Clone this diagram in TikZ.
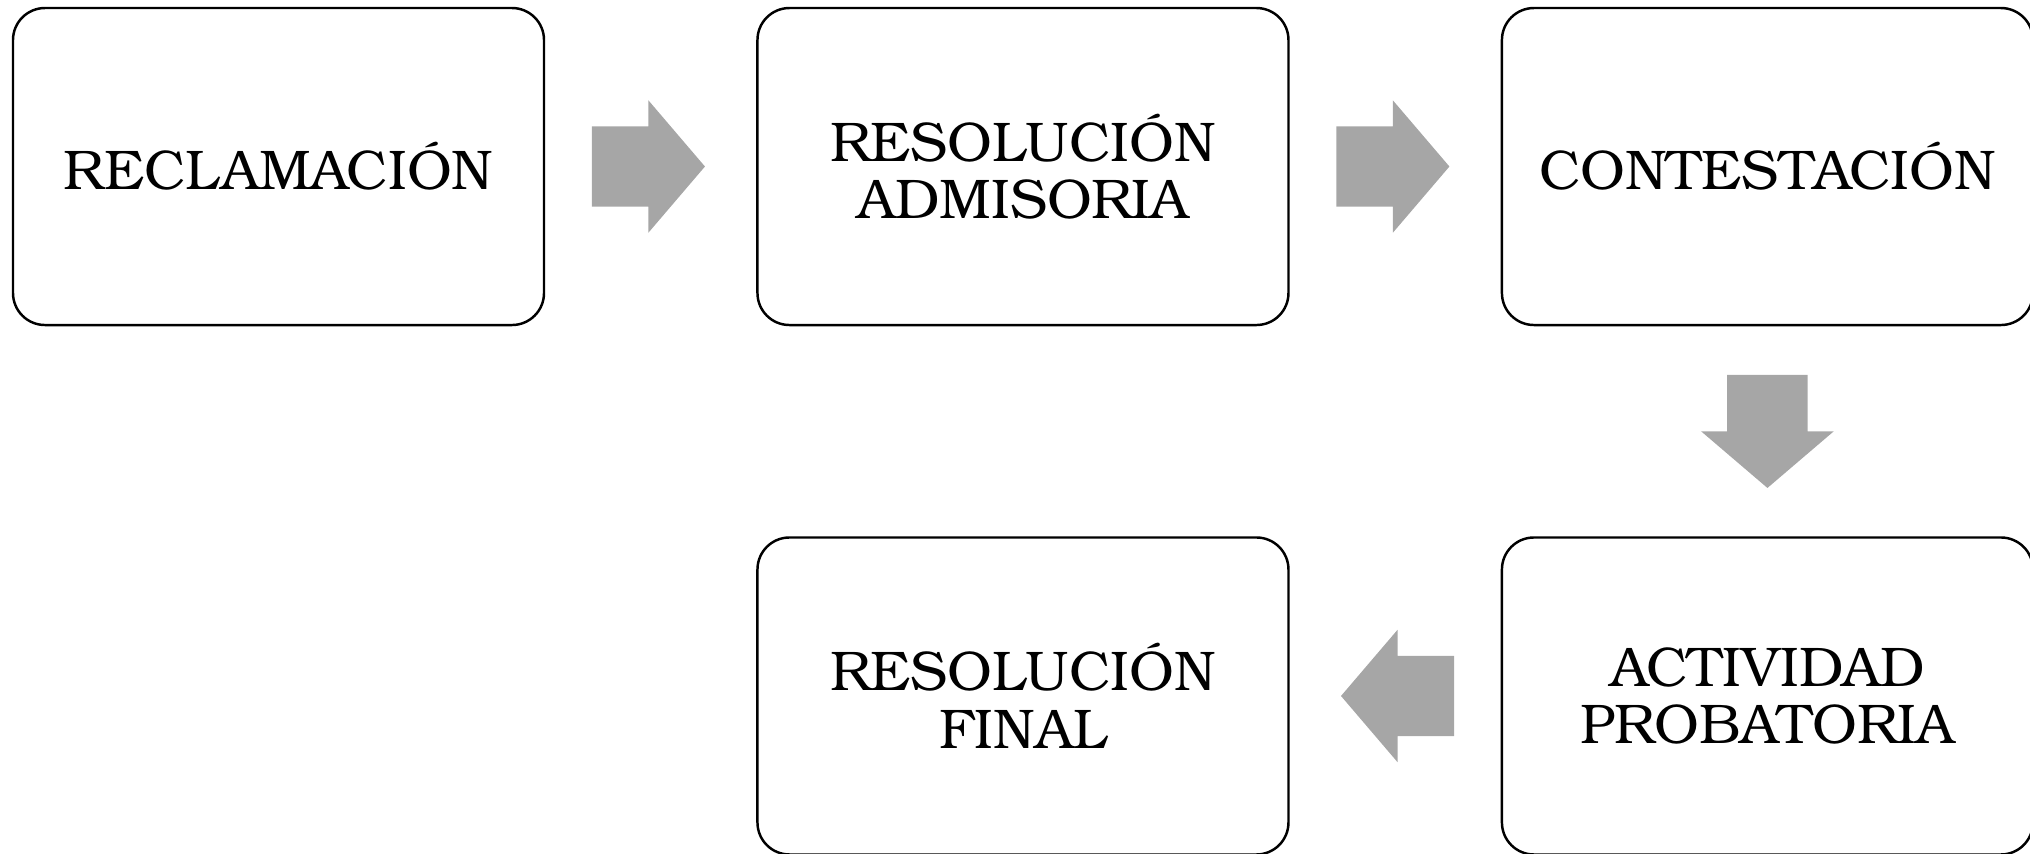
\documentclass[tikz,border=0pt]{standalone}
\usepackage{fontspec}
\setmainfont{TeX Gyre Bonum}
\usepackage{tikz}
\usetikzlibrary{positioning,shapes.arrows,calc}
\definecolor{flechagris}{RGB}{166, 166, 166}
\tikzset{
  etapa/.style={draw=black, line width=0.7pt, rounded corners=0.32cm,
    minimum width=5.31cm, minimum height=3.17cm, align=center,
    font=\fontsize{15.9}{16.4}\selectfont},
  flecha/.style={single arrow, fill=flechagris, draw=none, anchor=tail,
    inner xsep=0pt, inner ysep=0.395cm, minimum height=1.13cm,
    single arrow head extend=0.26cm, single arrow tip angle=99},
}

\begin{document}
\begin{tikzpicture}
  \useasboundingbox (0,0) rectangle (20.30,-8.53);
  % etapas
  \node[etapa] (reclamacion) at (2.785,-1.665) {RECLAMACIÓN};
  \node[etapa, right=2.11cm of reclamacion] (admisoria) {RESOLUCIÓN\\ADMISORIA};
  \node[etapa, right=2.11cm of admisoria] (contestacion) {CONTESTACIÓN};
  \node[etapa, below=2.10cm of contestacion] (probatoria) {ACTIVIDAD\\PROBATORIA};
  \node[etapa, below=2.10cm of admisoria] (final) {RESOLUCIÓN\\FINAL};
  % flechas
  \node[flecha] (f1) at ([xshift=0.46cm]reclamacion.east) {};
  \node[flecha] (f2) at ([xshift=0.46cm]admisoria.east) {};
  \node[flecha, rotate=-90] (f3) at ([yshift=-0.48cm]contestacion.south) {};
  \node[flecha, rotate=180] (f4) at ([xshift=-0.46cm]probatoria.west) {};
\end{tikzpicture}
\end{document}
